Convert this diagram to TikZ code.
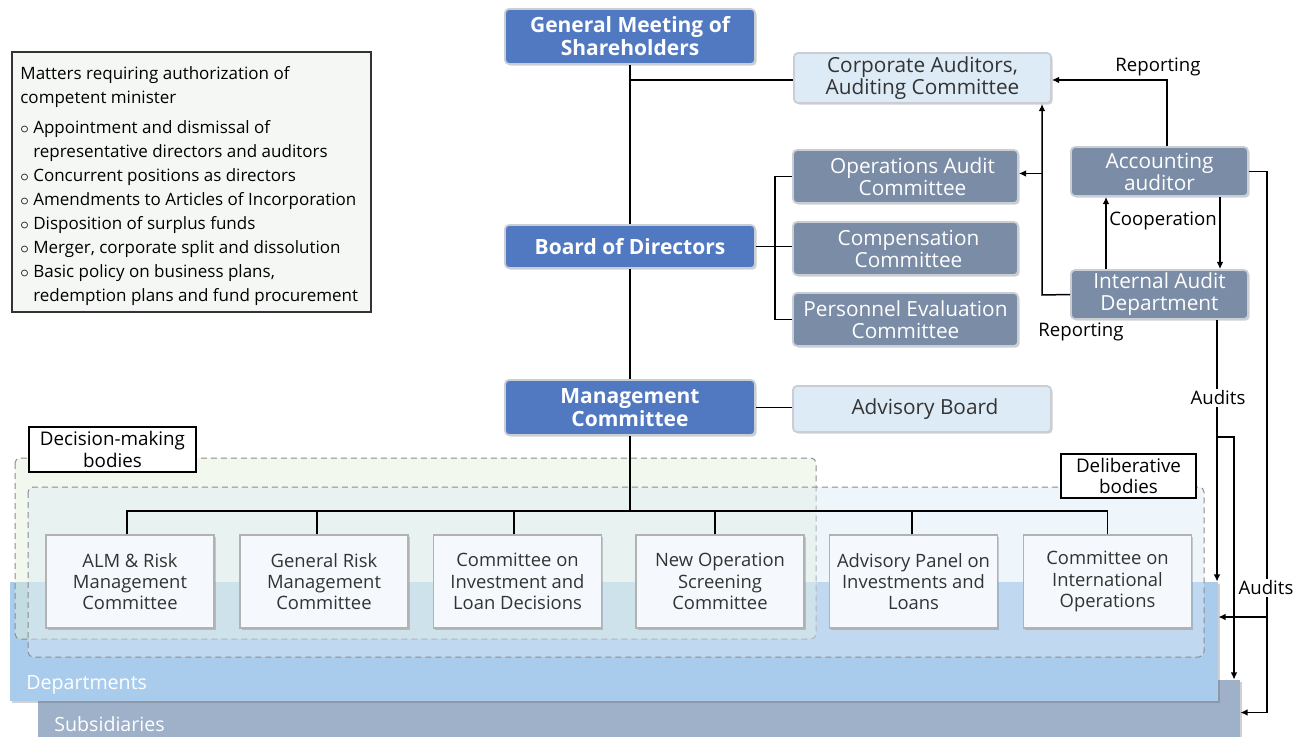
\documentclass[tikz,border=0pt]{standalone}
\usepackage{fontspec}
\setmainfont{Open Sans}
\usetikzlibrary{arrows.meta,shadows,calc}
\definecolor{cBlue}{HTML}{5179C1}
\definecolor{cDark}{HTML}{7A8CA6}
\definecolor{cLight}{HTML}{DDEBF6}
\definecolor{cEdge}{HTML}{C9CED5}
\definecolor{cDept}{HTML}{AACCEC}
\definecolor{cSubs}{HTML}{9FB0C9}
\definecolor{cComm}{HTML}{F5F9FD}
\definecolor{cDecision}{HTML}{E3F0D6}
\definecolor{cDelib}{HTML}{DCEBF6}
\definecolor{cMatters}{HTML}{F5F7F5}
\definecolor{cText}{HTML}{333333}
\begin{document}
\begin{tikzpicture}[x=0.5pt,y=-0.5pt,
  shade/.style={drop shadow={shadow xshift=0.8pt,shadow yshift=-0.8pt,opacity=0.3,fill=black!60}},
  basebox/.style={rectangle,rounded corners=2pt,draw=cEdge,line width=0.9pt,align=center,inner sep=0pt,shade},
  bluebox/.style={basebox,fill=cBlue,text=white,font=\bfseries\fontsize{10.5}{11.5}\selectfont,minimum width=125pt},
  darkbox/.style={basebox,fill=cDark,text=white,font=\fontsize{10.4}{11}\selectfont},
  lightbox/.style={basebox,fill=cLight,text=cText,font=\fontsize{10.4}{11}\selectfont},
  commbox/.style={rectangle,draw=black!30,line width=0.7pt,fill=cComm,text=cText,align=center,inner sep=0pt,
    minimum width=84pt,minimum height=46.5pt,font=\fontsize{9.2}{10.6}\selectfont,shade},
  labelbox/.style={rectangle,draw=black,line width=0.7pt,fill=white,align=center,inner sep=0pt,
    font=\fontsize{9.4}{10.6}\selectfont},
  lbl/.style={font=\fontsize{9.3}{11}\selectfont,inner sep=1pt},
  conn/.style={line width=0.75pt,draw=black},
  arr/.style={conn,-{Latex[length=3.6pt,width=3.4pt]}},
  dashbox/.style={draw=black!45,dash pattern=on 3pt off 2pt,line width=0.5pt,rounded corners=2.5pt}
]
\useasboundingbox (0,0) rectangle (1295,737);

% bottom layers
\node[rectangle,fill=cSubs,inner sep=0pt,minimum width=601pt,minimum height=32.5pt,shade] (subs) at (639,712.5) {};
\node[rectangle,fill=cDept,inner sep=0pt,minimum width=604pt,minimum height=59.5pt,shade] (dept) at (614,641.5) {};
\node[anchor=base west,text=white,font=\fontsize{9.8}{12}\selectfont,inner sep=0pt] (deptlbl) at (26,689) {Departments};
\node[anchor=base west,text=white,font=\fontsize{9.8}{12}\selectfont,inner sep=0pt] (subslbl) at (54,731) {Subsidiaries};

% dashed groups
\path[dashbox,fill=cDecision,fill opacity=0.45] (15,458) rectangle (816,639);
\path[dashbox,fill=cDelib,fill opacity=0.45] (28,487) rectangle (1204,657);

% matters box
\node[rectangle,draw=black!80,line width=0.6pt,fill=cMatters,minimum width=179.5pt,minimum height=130pt,inner sep=0pt] (matters) at (191.5,182) {};
\node[anchor=north west,align=left,inner sep=0pt,font=\fontsize{8.5}{12}\selectfont,text=black] (matterstxt) at (20,66)
{Matters requiring authorization of\\competent minister\\[3pt]
$\circ$ Appointment and dismissal of\\
\phantom{$\circ$ }representative directors and auditors\\
$\circ$ Concurrent positions as directors\\
$\circ$ Amendments to Articles of Incorporation\\
$\circ$ Disposition of surplus funds\\
$\circ$ Merger, corporate split and dissolution\\
$\circ$ Basic policy on business plans,\\
\phantom{$\circ$ }redemption plans and fund procurement};

% main nodes
\node[bluebox,minimum height=27.5pt] (gms) at (630,36.5) {General Meeting of\\Shareholders};
\node[bluebox,minimum height=21.5pt] (board) at (630,246.5) {Board of Directors};
\node[bluebox,minimum height=27.5pt] (mgmt) at (630,407.5) {Management\\Committee};
\node[lightbox,minimum width=128.5pt,minimum height=25pt] (corp) at (922.5,78) {Corporate Auditors,\\Auditing Committee};
\node[darkbox,minimum width=112.5pt,minimum height=26.5pt] (opaudit) at (905.5,176.5) {\hspace*{7pt}Operations Audit\\\hspace*{7pt}Committee};
\node[darkbox,minimum width=112.5pt,minimum height=26.5pt] (comp) at (905.5,248.5) {\hspace*{3pt}Compensation\\\hspace*{3pt}Committee};
\node[darkbox,minimum width=112.5pt,minimum height=26.5pt] (pers) at (905.5,319.5) {Personnel Evaluation\\Committee};
\node[lightbox,minimum width=129pt,minimum height=23pt] (advb) at (922,409) {\hspace*{3pt}Advisory Board};
\node[darkbox,minimum width=88.5pt,minimum height=24.5pt] (acct) at (1159.5,171.5) {Accounting\\auditor};
\node[darkbox,minimum width=88.5pt,minimum height=24.5pt] (iad) at (1159.5,294.5) {Internal Audit\\Department};

% committees
\node[commbox] (c1) at (130,581.5) {ALM \& Risk\\Management\\Committee};
\node[commbox] (c2) at (324,581.5) {General Risk\\Management\\Committee};
\node[commbox] (c3) at (517.5,581.5) {Committee on\\Investment and\\Loan Decisions};
\node[commbox] (c4) at (720,581.5) {New Operation\\Screening\\Committee};
\node[commbox] (c5) at (913.5,581.5) {Advisory Panel on\\Investments and\\Loans};
\node[commbox] (c6) at (1107.5,581.5) {Committee on\\International\\Operations};

% group labels
\node[labelbox,minimum width=83.5pt,minimum height=22.5pt] (dmlbl) at (112.5,449.5) {Decision-making\\bodies};
\node[labelbox,minimum width=67.5pt,minimum height=22pt] (delbl) at (1128.5,476) {Deliberative\\bodies};

% hierarchy connectors
\draw[conn] (gms.south) -- (board.north);
\draw[conn] (board.south) -- (mgmt.north);
\draw[conn] ([yshift=-1pt]corp.west) -- ([yshift=-1pt]corp.west -| gms.south);
\coordinate (bk) at (775,247);
\draw[conn] (board.east) -- (board.east -| comp.west);
\draw[conn] (opaudit.west) -| (bk) |- (pers.west);
\draw[conn] (mgmt.east) -- (mgmt.east -| advb.west);
\coordinate (bar) at (630,511);
\draw[conn] (mgmt.south) -- (bar);
\draw[conn] ([xshift=-1.5pt]c1.north) |- (bar);
\draw[conn] ([xshift=-3.5pt]c2.north) |- (bar);
\draw[conn] ([xshift=-1.75pt]c3.north) |- (bar);
\draw[conn] ([xshift=-2.5pt]c4.north) |- (bar);
\draw[conn] ([xshift=-0.75pt]c5.north) |- (bar);
\draw[conn] (c6.north) |- (bar);

% audit connectors
\coordinate (rx) at (1167,0);
\draw[arr] (acct.north -| rx) |- ([yshift=-1pt]corp.east);
\node[lbl] (rep1) at (1158,67) {Reporting};
\coordinate (rj) at (1042,295);
\draw[arr] (iad.west) -- (rj) -- (rj |- corp.south);
\draw[arr] ([yshift=1.5pt]rj |- opaudit.east) -- ([yshift=1.5pt]opaudit.east);
\node[lbl] (rep2) at (1081,332) {Reporting};
\coordinate (cu) at (1106,0);
\coordinate (cd) at (1220,0);
\draw[arr] (iad.north -| cu) -- (acct.south -| cu);
\draw[arr] (acct.south -| cd) -- (iad.north -| cd);
\node[lbl] (coop) at (1163,221) {Cooperation};
\coordinate (a1) at (1217,0);
\coordinate (a1b) at (1217,437);
\coordinate (a2) at (1234,0);
\draw[arr] (iad.south -| a1) -- (a1 |- dept.north);
\draw[arr] (a1b) -| (a2 |- subs.north);
\node[lbl,fill=white] (aud1) at (1218,398) {Audits};
\coordinate (a3) at (1267,0);
\coordinate (a3b) at (1267,617);
\draw[arr] (acct.east) -| (a3 |- subs.east) -- (subs.east);
\draw[arr] (a3b) -- (a3b -| dept.east);
\node[lbl,fill=white] (aud2) at (1266,588) {Audits};
\end{tikzpicture}
\end{document}
